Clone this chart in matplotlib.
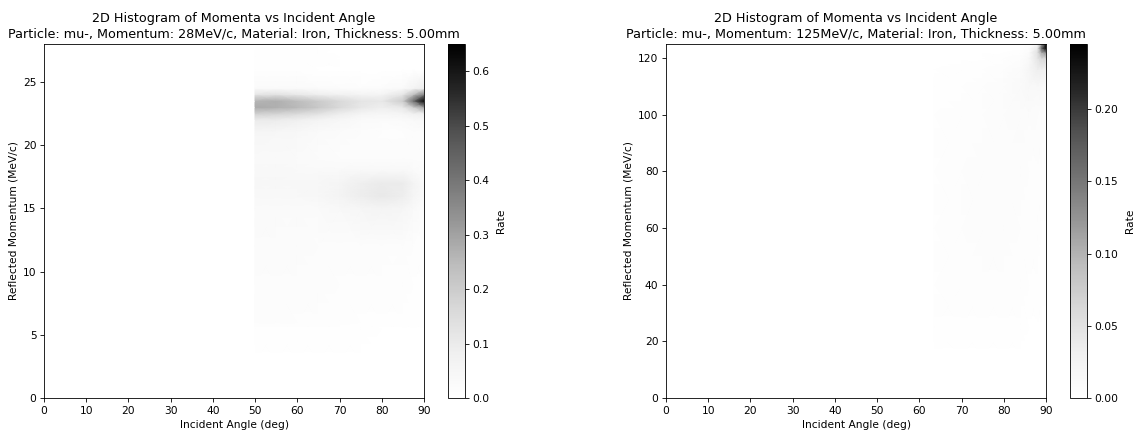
import numpy as np
import matplotlib
matplotlib.use("Agg")
import matplotlib.pyplot as plt

title = "2D Histogram of Momenta vs Incident Angle\n"

# left panel, 28 MeV/c
angle_a = [0, 49.9, 50, 55, 60, 65, 70, 75, 80, 85, 87.5, 90]
mom_a = [0, 3, 5.5, 6, 9, 12, 15, 16, 17, 18, 19, 21, 22, 22.5, 23, 23.5, 24, 24.5, 26, 27, 28]
rate_a = [
    [0, 0, 0, 0, 0, 0, 0, 0, 0, 0, 0, 0],
    [0, 0, 0.003, 0.003, 0.004, 0.004, 0.004, 0.003, 0.002, 0.002, 0.002, 0.001],
    [0, 0, 0.006, 0.007, 0.008, 0.007, 0.007, 0.006, 0.005, 0.004, 0.003, 0.003],
    [0, 0, 0.016, 0.016, 0.015, 0.013, 0.012, 0.010, 0.009, 0.008, 0.007, 0.006],
    [0, 0, 0.020, 0.019, 0.018, 0.016, 0.014, 0.013, 0.012, 0.011, 0.010, 0.009],
    [0, 0, 0.024, 0.022, 0.021, 0.019, 0.018, 0.017, 0.018, 0.016, 0.014, 0.012],
    [0, 0, 0.028, 0.028, 0.028, 0.030, 0.036, 0.050, 0.062, 0.052, 0.034, 0.020],
    [0, 0, 0.036, 0.036, 0.038, 0.044, 0.060, 0.090, 0.105, 0.090, 0.055, 0.030],
    [0, 0, 0.042, 0.042, 0.044, 0.046, 0.058, 0.085, 0.100, 0.095, 0.060, 0.030],
    [0, 0, 0.036, 0.036, 0.034, 0.032, 0.032, 0.036, 0.040, 0.038, 0.030, 0.020],
    [0, 0, 0.034, 0.032, 0.028, 0.024, 0.020, 0.018, 0.018, 0.018, 0.018, 0.014],
    [0, 0, 0.052, 0.048, 0.040, 0.030, 0.022, 0.016, 0.014, 0.014, 0.016, 0.016],
    [0, 0, 0.100, 0.095, 0.080, 0.060, 0.042, 0.028, 0.022, 0.028, 0.034, 0.036],
    [0, 0, 0.19, 0.18, 0.16, 0.13, 0.090, 0.058, 0.045, 0.055, 0.075, 0.085],
    [0, 0, 0.28, 0.27, 0.25, 0.21, 0.160, 0.110, 0.085, 0.110, 0.20, 0.30],
    [0, 0, 0.26, 0.27, 0.24, 0.20, 0.160, 0.120, 0.110, 0.20, 0.42, 0.65],
    [0, 0, 0.12, 0.13, 0.11, 0.09, 0.075, 0.060, 0.060, 0.12, 0.24, 0.38],
    [0, 0, 0.030, 0.030, 0.026, 0.022, 0.018, 0.015, 0.016, 0.030, 0.06, 0.09],
    [0, 0, 0.008, 0.008, 0.006, 0.005, 0.004, 0.002, 0.001, 0.001, 0.001, 0.001],
    [0, 0, 0.010, 0.010, 0.008, 0.006, 0.004, 0.002, 0, 0, 0, 0],
    [0, 0, 0, 0, 0, 0, 0, 0, 0, 0, 0, 0],
]

# right panel, 125 MeV/c
angle_b = [0, 63.4, 63.5, 70, 75, 80, 84, 86, 88, 89, 90]
mom_b = [0, 15, 25, 40, 60, 80, 100, 110, 116, 120, 122, 123.5, 125]
rate_b = [
    [0, 0, 0, 0, 0, 0, 0, 0, 0, 0, 0],
    [0, 0, 0, 0.001, 0.001, 0.001, 0, 0, 0, 0, 0],
    [0, 0, 0.002, 0.003, 0.003, 0.003, 0.002, 0.001, 0.001, 0, 0],
    [0, 0, 0.003, 0.005, 0.005, 0.005, 0.004, 0.003, 0.003, 0.002, 0.002],
    [0, 0, 0.003, 0.005, 0.006, 0.006, 0.005, 0.004, 0.004, 0.003, 0.003],
    [0, 0, 0.003, 0.005, 0.006, 0.007, 0.006, 0.005, 0.005, 0.004, 0.003],
    [0, 0, 0.003, 0.004, 0.005, 0.007, 0.009, 0.009, 0.007, 0.006, 0.005],
    [0, 0, 0.002, 0.003, 0.004, 0.006, 0.011, 0.015, 0.015, 0.013, 0.011],
    [0, 0, 0.001, 0.002, 0.003, 0.004, 0.009, 0.019, 0.032, 0.032, 0.026],
    [0, 0, 0, 0.001, 0.001, 0.002, 0.005, 0.013, 0.045, 0.065, 0.065],
    [0, 0, 0, 0, 0.001, 0.001, 0.002, 0.008, 0.050, 0.11, 0.13],
    [0, 0, 0, 0, 0, 0, 0.001, 0.004, 0.040, 0.17, 0.25],
    [0, 0, 0, 0, 0, 0, 0, 0.002, 0.020, 0.12, 0.24],
]

particles = ["Particle: mu-, Momentum: 28MeV/c, Material: Iron, Thickness: 5.00mm",
             "Particle: mu-, Momentum: 125MeV/c, Material: Iron, Thickness: 5.00mm"]

plt.rcParams["axes.linewidth"] = 0.6

fig = plt.figure(figsize=(11.35, 4.32), dpi=100)
ax1 = fig.add_axes([44/1135, 1-398/432, 380/1135, 354/432])
cax1 = fig.add_axes([448/1135, 1-398/432, 17/1135, 354/432])
ax2 = fig.add_axes([666/1135, 1-398/432, 380/1135, 354/432])
cax2 = fig.add_axes([1070/1135, 1-398/432, 17/1135, 354/432])

panels = [
    (ax1, cax1, angle_a, mom_a, rate_a, 0.65, 28, np.arange(0, 0.61, 0.1), "%.1f", particles[0]),
    (ax2, cax2, angle_b, mom_b, rate_b, 0.245, 125, np.arange(0, 0.21, 0.05), "%.2f", particles[1]),
]

for ax, cax, x, y, z, vmax, top, ticks, fmt, name in panels:
    mesh = ax.pcolormesh(x, y, np.array(z), shading="gouraud", cmap="Greys", vmin=0, vmax=vmax)
    ax.set_xlim(0, 90)
    ax.set_ylim(0, top)
    ax.set_xticks(np.arange(0, 91, 10))
    ax.tick_params(labelsize=7.65, length=2.7, width=0.6, pad=2.7)
    ax.set_xlabel("Incident Angle (deg)", fontsize=7.65, labelpad=3)
    ax.set_ylabel("Reflected Momentum (MeV/c)", fontsize=7.65, labelpad=3)
    ax.set_title(title + name, fontsize=9.18, pad=4.8, linespacing=1.22)
    cb = fig.colorbar(mesh, cax=cax, format=fmt)
    cb.set_ticks(ticks)
    cb.ax.tick_params(labelsize=7.65, length=2.7, width=0.6, pad=2.7)
    cb.set_label("Rate", fontsize=7.65, labelpad=4.5)

fig.savefig("out.png", dpi=100)
